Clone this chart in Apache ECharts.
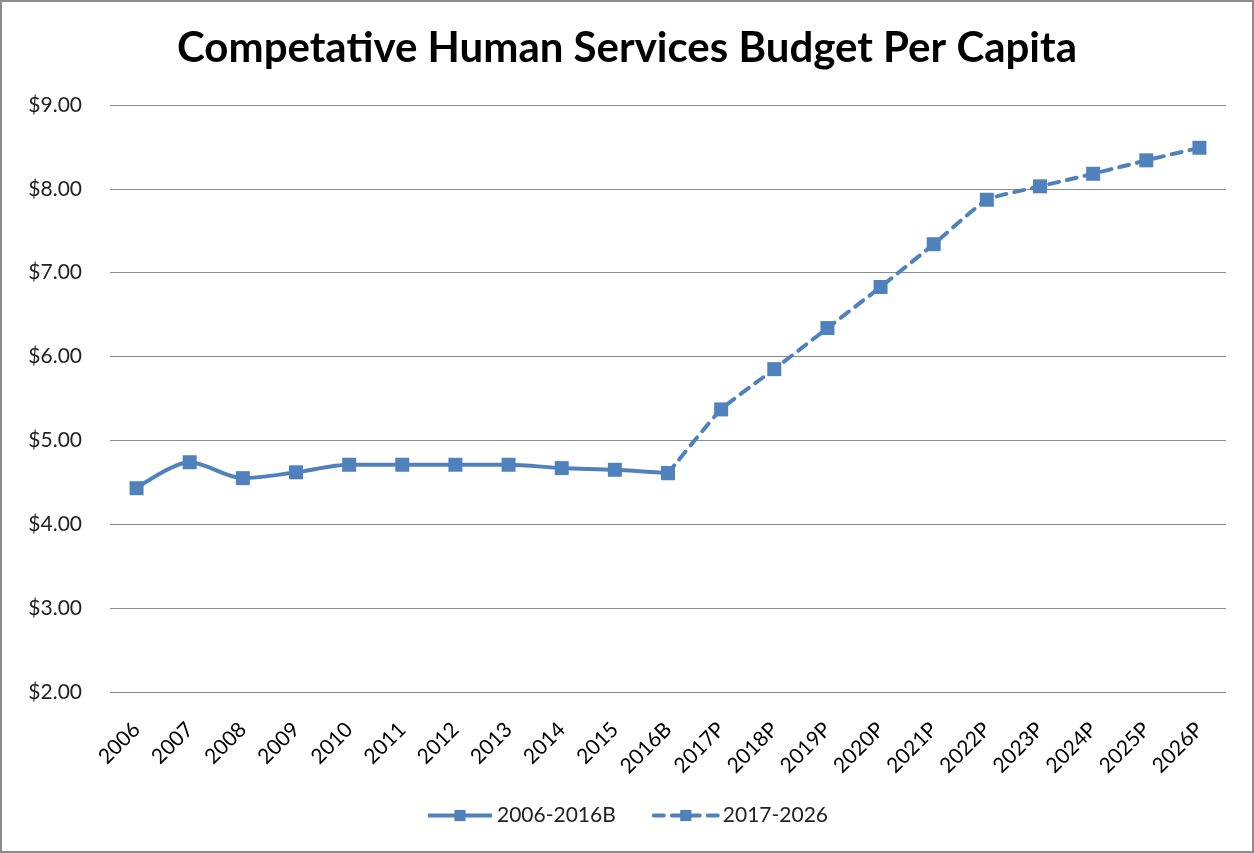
<!DOCTYPE html>
<html>
<head>
<meta charset="utf-8">
<script src="https://cdn.jsdelivr.net/npm/echarts@6/dist/echarts.min.js"></script>
<style>
  html, body { margin: 0; padding: 0; background: #fff; }
  #wrap { position: relative; width: 1254px; height: 853px; }
  #chart { width: 1254px; height: 853px; }
  #frame { position: absolute; left: 0; top: 0; width: 1254px; height: 853px;
           box-sizing: border-box; border: 2px solid #8c8c8c; pointer-events: none; }
</style>
</head>
<body>
<div id="wrap">
  <div id="chart"></div>
  <div id="frame"></div>
</div>
<script>
// Fiscal years on the category axis
const years = ['2006', '2007', '2008', '2009', '2010', '2011', '2012', '2013', '2014', '2015', '2016B',
  '2017P', '2018P', '2019P', '2020P', '2021P', '2022P', '2023P', '2024P', '2025P', '2026P'];

// Actual / budgeted per-capita spending, 2006-2016B
const actualValues = [4.43, 4.74, 4.55, 4.62, 4.71, 4.71, 4.71, 4.71, 4.67, 4.65, 4.61];

// Projected per-capita spending, 2017P-2026P
const projectedValues = [5.37, 5.85, 6.34, 6.83, 7.34, 7.87, 8.03, 8.18, 8.34, 8.49];

const seriesNames = ['2006-2016B', '2017-2026'];
const yTicks = { min: 2, max: 9, step: 1 };

const BLUE = '#4F81BD';
const FONT = 'Lato, "Noto Sans", sans-serif';

// Solid series covers the actual years; dashed series starts from the last actual point
const solidData = years.map((_, i) => (i < actualValues.length ? actualValues[i] : null));
const dashedData = years.map((_, i) => {
  const last = actualValues.length - 1;
  if (i < last) return null;
  if (i === last) return actualValues[last];
  return projectedValues[i - actualValues.length];
});

const chart = echarts.init(document.getElementById('chart'), null, { renderer: 'canvas' });

chart.setOption({
  backgroundColor: '#ffffff',
  animation: false,
  title: {
    text: 'Competative Human Services Budget Per Capita',
    left: 'center',
    top: 22,
    textStyle: { fontFamily: FONT, fontWeight: 'bold', fontSize: 42, color: '#000' }
  },
  legend: {
    bottom: 22,
    left: 'center',
    itemWidth: 64,
    itemHeight: 14,
    itemGap: 36,
    lineStyle: { width: 4 },
    textStyle: { fontFamily: FONT, fontSize: 21, color: '#222' },
    data: seriesNames
  },
  grid: { left: 110, right: 28, top: 105, bottom: 161, containLabel: false },
  xAxis: {
    type: 'category',
    data: years,
    boundaryGap: true,
    axisLine: { show: false },
    axisTick: { show: false },
    axisLabel: {
      rotate: 45,
      interval: 0,
      margin: 34,
      fontFamily: FONT,
      fontSize: 21,
      color: '#000'
    }
  },
  yAxis: {
    type: 'value',
    min: yTicks.min,
    max: yTicks.max,
    interval: yTicks.step,
    axisLine: { show: false },
    axisTick: { show: false },
    axisLabel: {
      margin: 28,
      fontFamily: FONT,
      fontSize: 21,
      color: '#222',
      formatter: v => '$' + v.toFixed(2)
    },
    splitLine: { lineStyle: { color: '#8c8c8c', width: 1 } }
  },
  series: [
    {
      name: seriesNames[0],
      type: 'line',
      data: solidData,
      smooth: 0.3,
      symbol: 'rect',
      symbolSize: 14,
      itemStyle: { color: BLUE },
      lineStyle: { color: BLUE, width: 4 },
      z: 3
    },
    {
      name: seriesNames[1],
      type: 'line',
      data: dashedData,
      smooth: 0.15,
      symbol: 'rect',
      symbolSize: 14,
      showSymbol: true,
      itemStyle: { color: BLUE },
      lineStyle: { color: BLUE, width: 4, type: [10, 8], cap: 'round' },
      z: 2
    }
  ]
});
</script>
</body>
</html>
